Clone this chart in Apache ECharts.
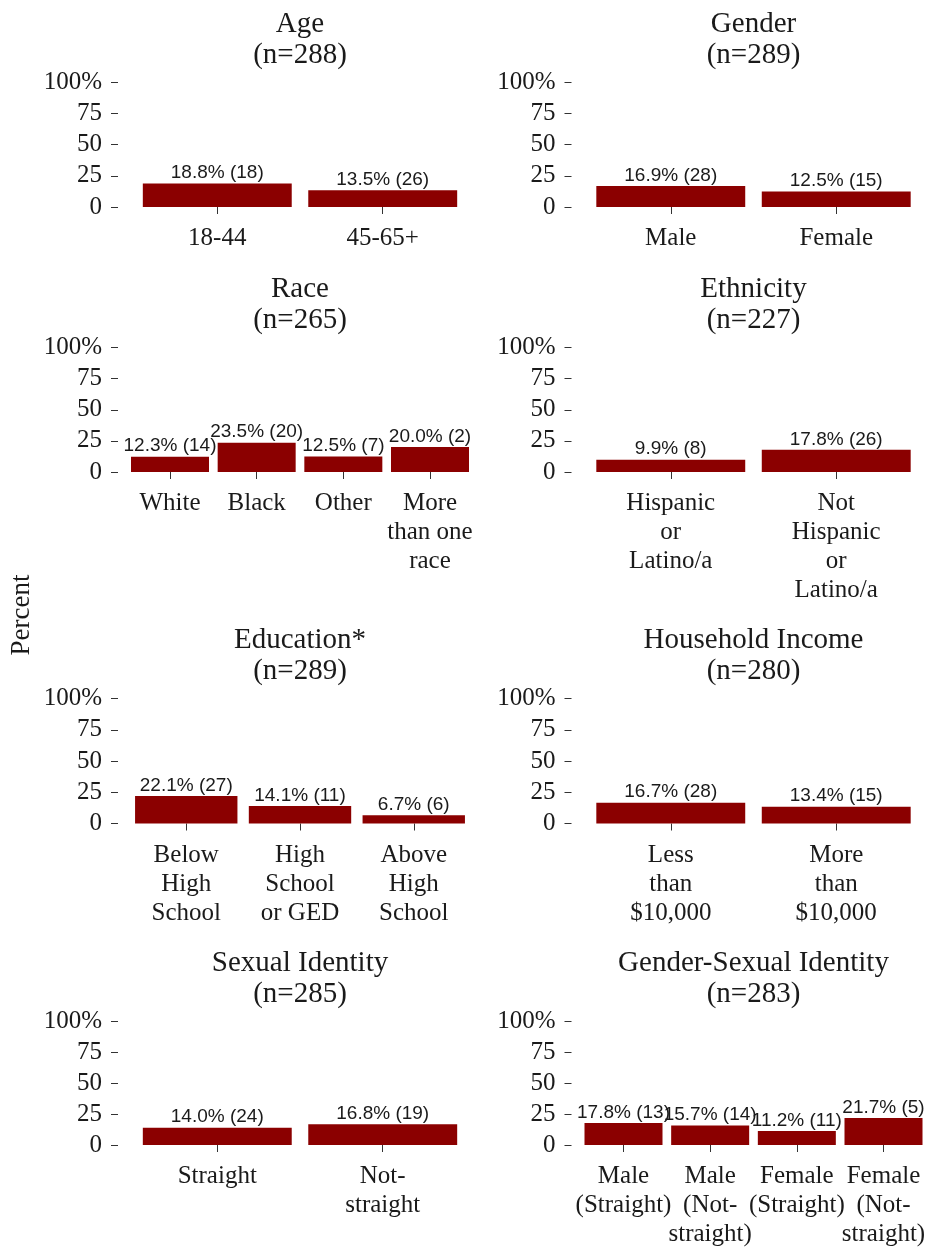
<!DOCTYPE html>
<html>
<head>
<meta charset="utf-8">
<script src="https://cdn.jsdelivr.net/npm/echarts@6/dist/echarts.min.js"></script>
<style>
  html, body { margin: 0; padding: 0; background: #ffffff; }
  #chart { width: 930px; height: 1249px; }
</style>
</head>
<body>
<div id="chart"></div>
<script>
// ---------------- DATA ----------------
const panelTitles = ['Age', 'Gender', 'Race', 'Ethnicity', 'Education*', 'Household Income', 'Sexual Identity', 'Gender-Sexual Identity'];
const panelN = [288, 289, 265, 227, 289, 280, 285, 283];

const ageCats = ['18-44', '45-65+'];
const agePct = [18.8, 13.5];
const ageCount = [18, 26];

const genderCats = ['Male', 'Female'];
const genderPct = [16.9, 12.5];
const genderCount = [28, 15];

const raceCats = ['White', 'Black', 'Other', 'More\nthan one\nrace'];
const racePct = [12.3, 23.5, 12.5, 20.0];
const raceCount = [14, 20, 7, 2];

const ethnicityCats = ['Hispanic\nor\nLatino/a', 'Not\nHispanic\nor\nLatino/a'];
const ethnicityPct = [9.9, 17.8];
const ethnicityCount = [8, 26];

const educationCats = ['Below\nHigh\nSchool', 'High\nSchool\nor GED', 'Above\nHigh\nSchool'];
const educationPct = [22.1, 14.1, 6.7];
const educationCount = [27, 11, 6];

const incomeCats = ['Less\nthan\n$10,000', 'More\nthan\n$10,000'];
const incomePct = [16.7, 13.4];
const incomeCount = [28, 15];

const sexIdCats = ['Straight', 'Not-\nstraight'];
const sexIdPct = [14.0, 16.8];
const sexIdCount = [24, 19];

const genderSexCats = ['Male\n(Straight)', 'Male\n(Not-\nstraight)', 'Female\n(Straight)', 'Female\n(Not-\nstraight)'];
const genderSexPct = [17.8, 15.7, 11.2, 21.7];
const genderSexCount = [13, 14, 11, 5];

const yTicks = [0, 25, 50, 75, 100];
const yAxisTitle = 'Percent';

// ---------------- LAYOUT ----------------
const panelCats = [ageCats, genderCats, raceCats, ethnicityCats, educationCats, incomeCats, sexIdCats, genderSexCats];
const panelPct = [agePct, genderPct, racePct, ethnicityPct, educationPct, incomePct, sexIdPct, genderSexPct];
const panelCount = [ageCount, genderCount, raceCount, ethnicityCount, educationCount, incomeCount, sexIdCount, genderSexCount];

const COL_LEFT = [118, 571.5];
const PANEL_W = 364;
const ROW_TOP = [82, 347.5, 698.5, 1021];
const ROW_H = [125, 124.5, 125, 124];

const SERIF = "'Liberation Serif', 'Times New Roman', serif";
const SANS = "'Liberation Sans', Arial, sans-serif";
const TEXT = '#1a1a1a';
const BAR = '#8b0000';

const grids = [], xAxes = [], yAxes = [], series = [], graphics = [];

panelTitles.forEach(function (title, i) {
  const col = i % 2, row = Math.floor(i / 2);
  const n = panelCats[i].length;
  const unit = PANEL_W / (n + 0.2);
  const pad = 0.1 * unit;
  const gl = COL_LEFT[col] + pad;
  const top = ROW_TOP[row];
  const h = ROW_H[row];
  grids.push({ left: gl, top: top, width: n * unit, height: h, containLabel: false });
  xAxes.push({
    type: 'category', gridIndex: i, data: panelCats[i], offset: 6,
    axisLine: { show: false },
    axisTick: { show: true, alignWithLabel: true, length: 7, lineStyle: { color: '#333', width: 1 } },
    axisLabel: { interval: 0, margin: 11, fontFamily: SERIF, fontSize: 25, lineHeight: 29, color: TEXT, align: 'center' },
    splitLine: { show: false }
  });
  yAxes.push({
    type: 'value', gridIndex: i, min: yTicks[0], max: yTicks[yTicks.length - 1], interval: 25,
    offset: pad,
    axisLine: { show: false },
    axisTick: { show: true, length: 7, lineStyle: { color: '#333', width: 1 } },
    axisLabel: { margin: 16, fontFamily: SERIF, fontSize: 25, color: TEXT,
      formatter: function (v) { return v === 100 ? '100%' : String(v); } },
    splitLine: { show: false }
  });
  series.push({
    type: 'bar', xAxisIndex: i, yAxisIndex: i, barWidth: '90%',
    data: panelPct[i].map(function (v, k) { return { value: v, cnt: panelCount[i][k] }; }),
    itemStyle: { color: BAR },
    label: {
      show: true, position: 'top', distance: 1,
      fontFamily: SANS, fontSize: 19, color: TEXT,
      formatter: function (p) { return p.value.toFixed(1) + '% (' + p.data.cnt + ')'; }
    },
    silent: true, animation: false
  });
  const cx = COL_LEFT[col] + PANEL_W / 2;
  graphics.push({ type: 'text', x: cx, y: top - 58, style: { text: title, align: 'center', verticalAlign: 'middle', fontFamily: SERIF, fontSize: 29, fill: TEXT } });
  graphics.push({ type: 'text', x: cx, y: top - 27, style: { text: '(n=' + panelN[i] + ')', align: 'center', verticalAlign: 'middle', fontFamily: SERIF, fontSize: 29, fill: TEXT } });
});

graphics.push({ type: 'text', x: 22, y: 615, rotation: Math.PI / 2,
  style: { text: yAxisTitle, align: 'center', verticalAlign: 'middle', fontFamily: SERIF, fontSize: 27, fill: TEXT } });

const chart = echarts.init(document.getElementById('chart'));
chart.setOption({
  animation: false,
  backgroundColor: '#ffffff',
  grid: grids, xAxis: xAxes, yAxis: yAxes, series: series, graphic: graphics
});
</script>
</body>
</html>
